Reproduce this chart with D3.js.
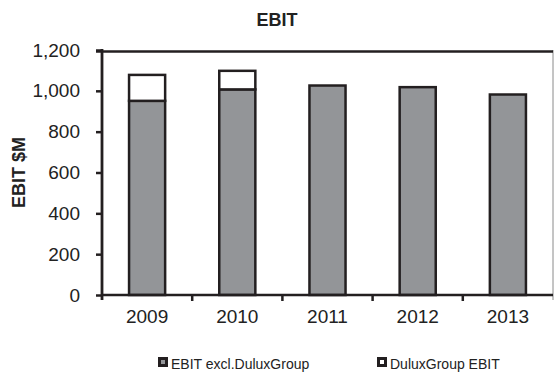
<!DOCTYPE html>
<html>
<head>
<meta charset="utf-8">
<script src="https://cdn.jsdelivr.net/npm/d3@7"></script>
<style>
  html, body { margin: 0; padding: 0; background: #fff; }
  svg { display: block; font-family: "Liberation Sans", Arial, sans-serif; }
</style>
</head>
<body>
<svg id="chart" width="554" height="374"></svg>
<script>
// EBIT by year, split into EBIT excluding DuluxGroup and DuluxGroup EBIT ($M)
const years = ["2009", "2010", "2011", "2012", "2013"];
const ebitExclDulux = [951, 1007, 1026, 1018, 982];
const duluxEbit = [127, 91, 0, 0, 0];
const yTicks = [0, 200, 400, 600, 800, 1000, 1200];
const seriesNames = ["EBIT excl.DuluxGroup", "DuluxGroup EBIT"];
const seriesColors = ["#939598", "#ffffff"];

const svg = d3.select("#chart");
const ink = "#231f20";
const x0 = 102, x1 = 553;
const y0 = 295, y1 = 50;

const x = d3.scaleBand().domain(years).range([x0, x1]).paddingInner(0.6).paddingOuter(0.3);
const y = d3.scaleLinear().domain([0, 1200]).range([y0, y1]);

// right plot border
svg.append("line").attr("x1", x1).attr("x2", x1).attr("y1", y1).attr("y2", y0 + 5)
  .attr("stroke", "#8a8a8a").attr("stroke-width", 1);

// stacked bars
const g = svg.append("g");
years.forEach((yr, i) => {
  const a = ebitExclDulux[i], b = duluxEbit[i];
  g.append("rect")
    .attr("x", x(yr)).attr("width", x.bandwidth())
    .attr("y", y(a)).attr("height", y(0) - y(a))
    .attr("fill", seriesColors[0]).attr("stroke", ink).attr("stroke-width", 2.5);
  if (b > 0) {
    g.append("rect")
      .attr("x", x(yr)).attr("width", x.bandwidth())
      .attr("y", y(a + b)).attr("height", y(a) - y(a + b))
      .attr("fill", seriesColors[1]).attr("stroke", ink).attr("stroke-width", 2.5);
  }
});

// top border line
svg.append("line").attr("x1", x0 - 6).attr("x2", x1).attr("y1", y(1200) + 1.5).attr("y2", y(1200) + 1.5)
  .attr("stroke", ink).attr("stroke-width", 2.5);

// y axis
const yAxis = svg.append("g").attr("transform", `translate(${x0},0)`)
  .call(d3.axisLeft(y).tickValues(yTicks).tickSize(6).tickPadding(16).tickFormat(d3.format(",")));
yAxis.select(".domain").remove();
yAxis.selectAll(".tick line").attr("stroke", ink).attr("stroke-width", 2.5).attr("x1", -6).attr("x2", 0);
yAxis.selectAll(".tick text").attr("fill", "#222").attr("font-size", "19px");
svg.append("line").attr("x1", x0).attr("x2", x0).attr("y1", y1 - 1).attr("y2", y0 + 5)
  .attr("stroke", ink).attr("stroke-width", 2.8);

// x axis with ticks between categories
svg.append("line").attr("x1", x0).attr("x2", x1).attr("y1", y0).attr("y2", y0)
  .attr("stroke", ink).attr("stroke-width", 2.5);
const boundaries = years.slice(1).map(yr => x(yr) - x.step() * x.paddingInner() / 2);
svg.selectAll(".xtick").data(boundaries).enter().append("line")
  .attr("x1", d => d).attr("x2", d => d).attr("y1", y0).attr("y2", y0 + 6)
  .attr("stroke", ink).attr("stroke-width", 2.5);
const xAxis = svg.append("g").attr("transform", `translate(0,${y0})`)
  .call(d3.axisBottom(x).tickSize(0).tickPadding(15));
xAxis.select(".domain").remove();
xAxis.selectAll(".tick text").attr("fill", "#222").attr("font-size", "19px");

// titles
svg.append("text").attr("x", 277).attr("y", 26).attr("text-anchor", "middle")
  .attr("font-size", "18px").attr("font-weight", "bold").attr("fill", "#222").text("EBIT");
svg.append("text").attr("transform", `translate(25,${(y0 + y1) / 2}) rotate(-90)`)
  .attr("text-anchor", "middle").attr("font-size", "18px").attr("font-weight", "bold")
  .attr("fill", "#222").text("EBIT $M");

// legend
const legendX = [158, 377];
seriesNames.forEach((name, i) => {
  const lg = svg.append("g").attr("transform", `translate(${legendX[i]},357)`);
  lg.append("rect").attr("x", 1.5).attr("y", 1.5).attr("width", 7).attr("height", 7)
    .attr("fill", seriesColors[i]).attr("stroke", ink).attr("stroke-width", 3);
  lg.append("text").attr("x", 13).attr("y", 12).attr("font-size", "14px").attr("fill", "#222").text(name);
});
</script>
</body>
</html>
